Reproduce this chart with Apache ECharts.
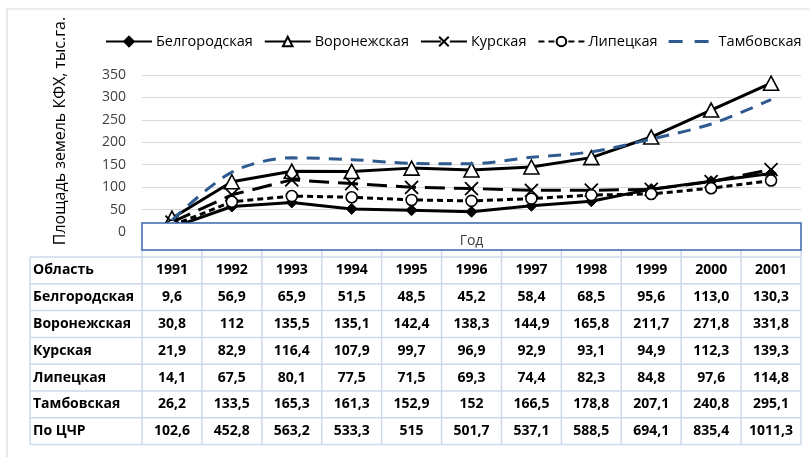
<!DOCTYPE html>
<html><head><meta charset="utf-8">
<script src="https://cdn.jsdelivr.net/npm/echarts@6/dist/echarts.min.js"></script>
<style>html,body{margin:0;padding:0;background:#fff}#c{width:809px;height:457px}</style>
</head><body><div id="c"></div>
<script>
// ---- data ----
const years = ['1991','1992','1993','1994','1995','1996','1997','1998','1999','2000','2001'];
const regionNames = ['Белгородская','Воронежская','Курская','Липецкая','Тамбовская'];
const belgorod = ['9,6','56,9','65,9','51,5','48,5','45,2','58,4','68,5','95,6','113,0','130,3'];
const voronezh = ['30,8','112','135,5','135,1','142,4','138,3','144,9','165,8','211,7','271,8','331,8'];
const kursk    = ['21,9','82,9','116,4','107,9','99,7','96,9','92,9','93,1','94,9','112,3','139,3'];
const lipetsk  = ['14,1','67,5','80,1','77,5','71,5','69,3','74,4','82,3','84,8','97,6','114,8'];
const tambov   = ['26,2','133,5','165,3','161,3','152,9','152','166,5','178,8','207,1','240,8','295,1'];
const totalName = 'По ЦЧР';
const totalCCR = ['102,6','452,8','563,2','533,3','515','501,7','537,1','588,5','694,1','835,4','1011,3'];
const headerLabel = 'Область';
const yTitle = 'Площадь земель КФХ, тыс.га.';
const xTitle = 'Год';
const yMin = 0, yMax = 350, yStep = 50;

// ---- helpers ----
const num = a => a.map(s => parseFloat(s.replace(',', '.')));
const seriesData = [belgorod, voronezh, kursk, lipetsk, tambov];

const chart = echarts.init(document.getElementById('c'), null, {renderer: 'canvas'});

const gridLeft = 142, gridRight = 8, gridTop = 75, gridBottom = 457 - 232;
const plotW = 809 - gridLeft - gridRight;
const colW = plotW / years.length;

const xPath = 'path://M0,0L10,10M10,0L0,10';
const blue = '#2F5A8F';
const styles = [
  {lineStyle:{color:'#000',width:3,type:'solid'}, symbol:'diamond', symbolSize:11, itemStyle:{color:'#000',borderColor:'#000',borderWidth:1}},
  {lineStyle:{color:'#000',width:3,type:'solid'}, symbol:'triangle', symbolSize:[15,14], itemStyle:{color:'#fff',borderColor:'#000',borderWidth:1.6}},
  {lineStyle:{color:'#000',width:3,type:[20,9]}, symbol:xPath, symbolSize:13, itemStyle:{color:'#000',borderColor:'#000',borderWidth:1.8}},
  {lineStyle:{color:'#000',width:3,type:[6,4]}, symbol:'circle', symbolSize:11, itemStyle:{color:'#fff',borderColor:'#000',borderWidth:1.6}},
  {lineStyle:{color:blue,width:3,type:[13,9]}, symbol:'none', symbolSize:0, itemStyle:{color:blue}, smooth:0.3}
];

const series = regionNames.map((n, i) => Object.assign({
  name: n, type: 'line', data: num(seriesData[i]), z: 2 + i,
  showSymbol: styles[i].symbol !== 'none'
}, styles[i]));

// legend items: Tambov gets a two-dash icon (no marker)
const legendData = regionNames.map((n, i) => i === 4
  ? {name: n, icon: 'path://M0,4.5h14v3H0z M26,4.5h14v3H26z M0,0h0.01v12H0z M46,0h0.01v12H46z', itemStyle:{color:blue, borderWidth:0}}
  : {name: n});

// ---- table graphics ----
const g = [];
const tTop = 257, rowH = 26.8, tLeft = 30, tRight = gridLeft + plotW;
const rows = [[headerLabel].concat(years)]
  .concat(regionNames.map((n, i) => [n].concat(seriesData[i])))
  .concat([[totalName].concat(totalCCR)]);
const lineCol = '#cdd9ea';
for (let r = 0; r <= rows.length; r++) {
  const y = tTop + r * rowH;
  g.push({type:'line', shape:{x1:tLeft, y1:y, x2:tRight, y2:y}, style:{stroke:lineCol, lineWidth:1.5}, z:50});
}
g.push({type:'line', shape:{x1:tLeft, y1:tTop, x2:tLeft, y2:tTop + rows.length*rowH}, style:{stroke:lineCol, lineWidth:1.5}, z:50});
for (let c = 0; c <= years.length; c++) {
  const x = gridLeft + c * colW;
  g.push({type:'line', shape:{x1:x, y1:250, x2:x, y2:tTop + rows.length*rowH}, style:{stroke:lineCol, lineWidth:1.5}, z:50});
}
const tFont = 'bold 14px "Open Sans"';
rows.forEach((row, r) => {
  const cy = tTop + (r + 0.5) * rowH;
  row.forEach((cell, c) => {
    if (c === 0) {
      g.push({type:'text', x: tLeft + 3, y: cy, style:{text: cell, font:tFont, fill:'#000', textAlign:'left', textVerticalAlign:'middle'}, z:60});
    } else {
      g.push({type:'text', x: gridLeft + (c - 0.5) * colW, y: cy, style:{text: cell, font:tFont, fill:'#000', textAlign:'center', textVerticalAlign:'middle'}, z:60});
    }
  });
});
// x axis title box
g.push({type:'rect', shape:{x:gridLeft, y:223, width:plotW, height:27}, style:{fill:'#fff', stroke:'#3A66A8', lineWidth:1.5}, z:100});
g.push({type:'text', x: gridLeft + plotW/2, y: 241, style:{text:xTitle, font:'14px "Open Sans"', fill:'#404040', textAlign:'center', textVerticalAlign:'middle'}, z:101});
// y title
g.push({type:'text', x: 60, y: 131, rotation: Math.PI/2, style:{text:yTitle, font:'16px "Open Sans"', fill:'#000', textAlign:'center', textVerticalAlign:'middle'}, z:101});
// outer border
g.push({type:'rect', shape:{x:7, y:9, width:820, height:470}, style:{fill:'none', stroke:'#d9d9d9', lineWidth:1.2}, z:0});

chart.setOption({
  animation: false,
  backgroundColor: '#fff',
  legend: {
    data: legendData, left: 105, top: 34, width: 704, padding: 0,
    itemWidth: 46, itemHeight: 12, itemGap: 11,
    textStyle: {fontFamily: 'Open Sans', fontSize: 14.5, color: '#000', padding:[0,0,0,-1]}
  },
  grid: {left: gridLeft, right: gridRight, top: gridTop, bottom: gridBottom, containLabel: false},
  xAxis: {type: 'category', data: years, boundaryGap: true,
    axisLine:{show:false}, axisTick:{show:false}, axisLabel:{show:false}},
  yAxis: {type: 'value', min: yMin, max: yMax, interval: yStep,
    axisLine:{show:false}, axisTick:{show:false},
    axisLabel:{fontFamily:'Open Sans', fontSize:14, color:'#404040', margin:16},
    splitLine:{lineStyle:{color:'#d9d9d9', width:1.2}}},
  series: series,
  graphic: g
});
</script></body></html>
